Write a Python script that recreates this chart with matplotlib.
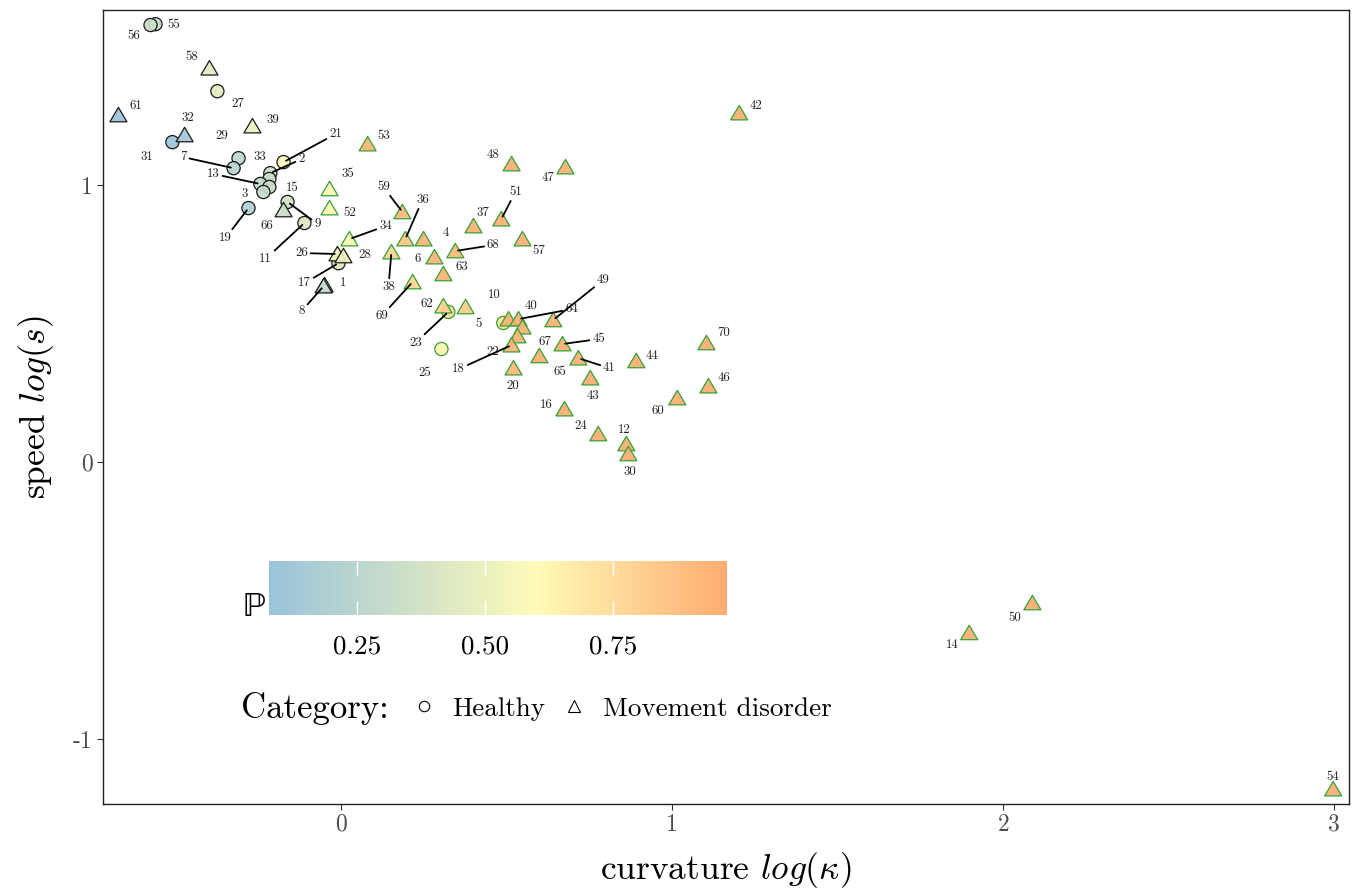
import numpy as np
import matplotlib
matplotlib.use('Agg')
import matplotlib.pyplot as plt
from matplotlib.colors import LinearSegmentedColormap, Normalize, to_rgba
from matplotlib.path import Path
from matplotlib.lines import Line2D
import matplotlib.colorbar as mcolorbar

plt.rcParams['font.family'] = 'cmr10'
plt.rcParams['mathtext.fontset'] = 'cm'
plt.rcParams['axes.formatter.use_mathtext'] = True

# data: subject id, log curvature, log speed, category, predicted probability
labels = [55, 56, 58, 27, 61, 32, 31, 39, 29, 7, 2, 21, 33, 13, 15, 3, 19, 9, 66, 11,
          53, 35, 52, 59, 36, 34, 4, 26, 28, 17, 1, 8, 38, 6, 68, 63, 69, 62, 23, 5,
          25, 48, 47, 51, 37, 57, 10, 64, 22, 40, 49, 67, 18, 65, 45, 41, 20, 43, 44, 70,
          46, 60, 16, 24, 12, 30, 42, 50, 14, 54]
curvature = [-0.562, -0.577, -0.399, -0.375, -0.674, -0.474, -0.511, -0.269, -0.311, -0.326,
             -0.215, -0.175, -0.218, -0.245, -0.218, -0.236, -0.281, -0.163, -0.175, -0.112,
             0.079, -0.036, -0.036, 0.184, 0.193, 0.024, 0.248, -0.012, 0.006, -0.009,
             -0.051, -0.054, 0.151, 0.281, 0.344, 0.308, 0.215, 0.308, 0.323, 0.375,
             0.302, 0.514, 0.677, 0.483, 0.399, 0.547, 0.505, 0.535, 0.489, 0.547,
             0.640, 0.532, 0.514, 0.598, 0.668, 0.716, 0.520, 0.752, 0.891, 1.103,
             1.109, 1.015, 0.674, 0.776, 0.861, 0.867, 1.202, 2.088, 1.897, 2.997]
speed = [1.581, 1.578, 1.422, 1.339, 1.253, 1.181, 1.155, 1.213, 1.097, 1.061,
         1.043, 1.083, 1.022, 1.004, 0.993, 0.975, 0.917, 0.939, 0.910, 0.863,
         1.148, 0.986, 0.917, 0.903, 0.805, 0.805, 0.805, 0.751, 0.744, 0.718,
         0.639, 0.635, 0.758, 0.740, 0.762, 0.679, 0.650, 0.563, 0.542, 0.560,
         0.408, 1.076, 1.065, 0.877, 0.852, 0.805, 0.516, 0.516, 0.502, 0.487,
         0.513, 0.455, 0.422, 0.383, 0.426, 0.375, 0.339, 0.303, 0.365, 0.430,
         0.274, 0.231, 0.191, 0.101, 0.065, 0.029, 1.260, -0.509, -0.617, -1.181]
category = ['H', 'H', 'M', 'H', 'M', 'M', 'H', 'M', 'H', 'H', 'H', 'H', 'H', 'H', 'H', 'H', 'H', 'H', 'M', 'H',
            'M', 'M', 'M', 'M', 'M', 'M', 'M', 'M', 'M', 'H', 'M', 'M', 'M', 'M', 'M', 'M', 'M', 'M', 'H', 'M',
            'H', 'M', 'M', 'M', 'M', 'M', 'M', 'M', 'H', 'M', 'M', 'M', 'M', 'M', 'M', 'M', 'M', 'M', 'M', 'M',
            'M', 'M', 'M', 'M', 'M', 'M', 'M', 'M', 'M', 'M']
prob = [0.32, 0.33, 0.45, 0.45, 0.10, 0.13, 0.10, 0.50, 0.27, 0.23,
        0.35, 0.58, 0.33, 0.30, 0.33, 0.30, 0.20, 0.36, 0.32, 0.42,
        0.94, 0.63, 0.63, 0.92, 0.86, 0.62, 0.94, 0.52, 0.52, 0.45,
        0.30, 0.30, 0.78, 0.94, 0.92, 0.94, 0.78, 0.80, 0.76, 0.82,
        0.64, 0.95, 0.95, 0.95, 0.95, 0.95, 0.95, 0.95, 0.72, 0.94,
        0.95, 0.94, 0.94, 0.95, 0.95, 0.95, 0.92, 0.96, 0.96, 0.96,
        0.96, 0.96, 0.96, 0.96, 0.96, 0.96, 0.96, 0.96, 0.96, 0.96]

# label placement (pixel offsets from point) and which labels get a leader line
label_dx = [18, -17, -18, 20, 17, 3, -26, 20, -17, -50, 31, 52, -10, -47, 23, -19, -23, 30, -17, -39,
            16, 18, 20, -19, 17, 36, 22, -36, 21, -34, 19, -22, -3, -17, 38, 18, -31, -17, -33, 13,
            -17, -19, -17, 14, 9, 16, -14, 53, -11, 9, 50, 27, -53, 21, 36, 31, -1, 3, 16, 17,
            16, -19, -18, -18, -2, 1, 17, -18, -17, 0]
label_dy = [-1, -11, 11, -13, 9, 17, -15, 6, 22, 11, 14, 28, 22, 10, -1, -2, -30, -22, -16, -36,
            8, 15, -5, 25, 39, 13, 6, 1, 1, -20, 2, -25, -35, -2, 6, 7, -34, 2, -31, -17,
            -24, 9, -11, 27, 13, -12, 24, 10, -29, 21, 40, -6, -24, -16, 5, -10, -18, -18, 5, 10,
            8, -13, 4, 8, 14, -18, 7, -15, -12, 12]
segments = {21, 7, 13, 2, 19, 9, 11, 59, 36, 34, 26, 17, 8, 38, 68, 69, 23, 51, 64, 49, 45, 41, 18}

cmap = LinearSegmentedColormap.from_list(
    'prob', [(0.0, '#9AC3DA'), (0.585, '#FFFBB8'), (1.0, '#FFAC70')])
norm = Normalize(vmin=0.077, vmax=0.973)

tri = Path([(-1, -0.8), (1, -0.8), (0, 0.9), (-1, -0.8)],
           [Path.MOVETO, Path.LINETO, Path.LINETO, Path.CLOSEPOLY])

fig = plt.figure(figsize=(13.53, 8.90), dpi=100)
ax = fig.add_axes([0.0758, 0.0966, 0.9213, 0.8921])

x = np.array(curvature)
y = np.array(speed)
p = np.array(prob)
cat = np.array(category)
faces = np.array([to_rgba(cmap(norm(v)), 0.93) for v in p])
edges = np.array(['#34A034' if v >= 0.6 else '#1A1A1A' for v in p])

for c, mk, s in [('H', 'o', 90), ('M', tri, 150)]:
    m = cat == c
    ax.scatter(x[m], y[m], s=s, marker=mk, c=faces[m], edgecolors=edges[m],
               linewidths=0.9, zorder=2)

for i, lab in enumerate(labels):
    kw = {}
    if lab in segments:
        kw['arrowprops'] = dict(arrowstyle='-', color='black', lw=1.3,
                                shrinkA=0, shrinkB=2)
    ax.annotate(str(lab), (x[i], y[i]), xytext=(label_dx[i], label_dy[i]),
                textcoords='offset pixels', ha='center', va='center',
                fontsize=9.2, color='#222222', zorder=3, **kw)

ax.set_xlim(-0.722, 3.045)
ax.set_ylim(-1.235, 1.632)
ax.set_xticks([0, 1, 2, 3])
ax.set_xticklabels(['0', '1', '2', '3'])
ax.set_yticks([-1, 0, 1])
ax.set_yticklabels(['-1', '0', '1'])
ax.tick_params(length=4, width=0.8, color='#333333', labelcolor='#4D4D4D',
               labelsize=17, pad=3)
for sp in ax.spines.values():
    sp.set_color('#222222')
    sp.set_linewidth(1.0)
ax.set_xlabel(r'curvature $log(\kappa)$', fontsize=25.5, labelpad=10)
ax.set_ylabel(r'speed $log(s)$', fontsize=25.5, labelpad=12)

# colour bar legend
cax = fig.add_axes([269 / 1353, 275 / 890, 458 / 1353, 54 / 890])
cb = mcolorbar.ColorbarBase(cax, cmap=cmap, norm=norm, orientation='horizontal',
                            ticks=[0.25, 0.5, 0.75])
cb.outline.set_visible(False)
cb.ax.set_xticklabels(['0.25', '0.50', '0.75'])
cax.tick_params(axis='x', direction='in', color='white', length=10, width=1,
                top=True, bottom=True, labelsize=19.5, pad=14)
fig.text(266 / 1353, 274 / 890, '\u2119', ha='right', va='baseline', fontsize=25,
         family='STIXGeneral')

# shape legend
fig.text(241 / 1353, 0.2034, 'Category:', ha='left', va='center', fontsize=25)
handles = [Line2D([], [], marker='o', ls='none', mfc='white', mec='black', ms=7.5, mew=0.8),
           Line2D([], [], marker='^', ls='none', mfc='white', mec='black', ms=8.5, mew=0.8)]
ax.legend(handles, ['Healthy', 'Movement disorder'], ncol=2, frameon=False,
          loc='center left', bbox_to_anchor=(386 / 1353, 0.2034),
          bbox_transform=fig.transFigure, fontsize=19.5, handlelength=1.0,
          handletextpad=0.55, columnspacing=0.57, borderpad=0.4)

fig.savefig('out.png', dpi=100)
